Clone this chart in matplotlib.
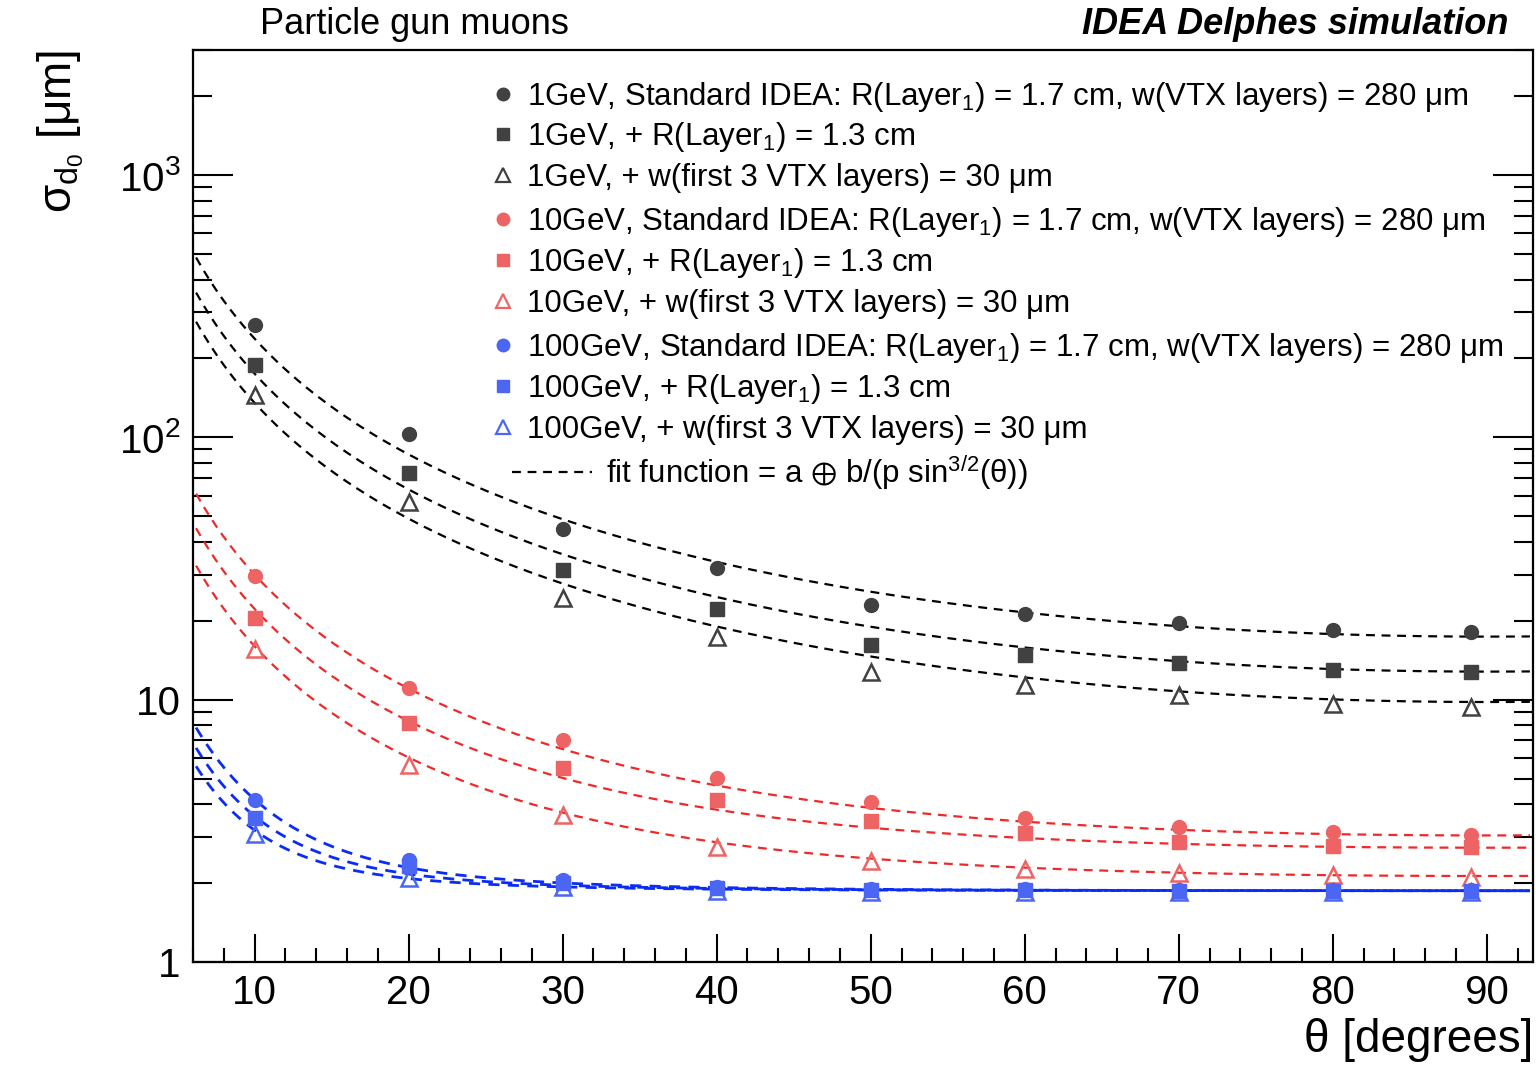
#!/usr/bin/env python3
# coding: utf-8

import numpy as np
import matplotlib
matplotlib.use("Agg")
import matplotlib.pyplot as plt
from matplotlib.ticker import FixedLocator, FixedFormatter, MultipleLocator, NullFormatter

#######################################################
# data

theta = [10, 20, 30, 40, 50, 60, 70, 80, 89]

# 1 GeV
gev1_std = [269, 103.5, 44.7, 31.8, 23.0, 21.2, 19.6, 18.5, 18.1]
gev1_r13 = [189.5, 73.0, 31.2, 22.2, 16.2, 14.8, 13.8, 13.0, 12.7]
gev1_w30 = [145.7, 56.6, 24.4, 17.4, 12.8, 11.4, 10.4, 9.66, 9.41]

# 10 GeV
gev10_std = [29.6, 11.1, 7.05, 5.01, 4.06, 3.53, 3.26, 3.12, 3.04]
gev10_r13 = [20.5, 8.18, 5.51, 4.13, 3.44, 3.09, 2.86, 2.76, 2.74]
gev10_w30 = [15.6, 5.66, 3.62, 2.74, 2.42, 2.26, 2.18, 2.15, 2.10]

# 100 GeV
gev100_std = [4.13, 2.44, 2.05, 1.94, 1.90, 1.89, 1.88, 1.88, 1.88]
gev100_r13 = [3.53, 2.32, 2.00, 1.91, 1.88, 1.88, 1.87, 1.87, 1.87]
gev100_w30 = [3.07, 2.09, 1.94, 1.86, 1.85, 1.85, 1.85, 1.85, 1.85]

# fit parameters of a (+) b/(p sin^3/2), b already divided by p
fit_a = [2.49, 1.87, 0.0, 2.13, 2.21, 1.79, 1.85, 1.857, 1.86]
fit_b = [17.22, 12.66, 9.8, 2.165, 1.598, 1.15, 0.27, 0.223, 0.1866]

labels = [
    r"1GeV, Standard IDEA: R(Layer$_{1}$) = 1.7 cm, w(VTX layers) = 280 μm",
    r"1GeV, + R(Layer$_{1}$) = 1.3 cm",
    r"1GeV, + w(first 3 VTX layers) = 30 μm",
    r"10GeV, Standard IDEA: R(Layer$_{1}$) = 1.7 cm, w(VTX layers) = 280 μm",
    r"10GeV, + R(Layer$_{1}$) = 1.3 cm",
    r"10GeV, + w(first 3 VTX layers) = 30 μm",
    r"100GeV, Standard IDEA: R(Layer$_{1}$) = 1.7 cm, w(VTX layers) = 280 μm",
    r"100GeV, + R(Layer$_{1}$) = 1.3 cm",
    r"100GeV, + w(first 3 VTX layers) = 30 μm",
]

#######################################################

plt.rcParams["font.family"] = ["Liberation Sans", "DejaVu Sans"]
plt.rcParams["mathtext.fontset"] = "custom"
plt.rcParams["mathtext.rm"] = "Liberation Sans"
plt.rcParams["mathtext.it"] = "Liberation Sans:italic"
plt.rcParams["mathtext.bf"] = "Liberation Sans:bold"
plt.rcParams["mathtext.fallback"] = "stixsans"

W, H = 1536, 1066


def fig_xy(px, py):
    return px / W, 1 - py / H


def fitFunction(th, a, b):
    s = np.sin(np.radians(th)) ** 1.5
    return np.sqrt(a ** 2 + (b / s) ** 2)


series = [gev1_std, gev1_r13, gev1_w30,
          gev10_std, gev10_r13, gev10_w30,
          gev100_std, gev100_r13, gev100_w30]

mark_cols = ["#414141", "#ee6464", "#4b66f2"]
line_cols = ["#000000", "#f02828", "#0a2cf5"]
line_w = [1.6, 1.6, 2.0]
shapes = ["o", "s", "^"]
sizes = [10, 9.5, 11]

fig = plt.figure(figsize=(W / 100, H / 100), dpi=100)
ax = fig.add_axes([193 / W, 1 - 962 / H, 1340 / W, 912 / H])

th_line = np.linspace(6.2, 92.8, 400)

for i in range(9):
    grp = i // 3
    kind = i % 3
    ax.plot(th_line, fitFunction(th_line, fit_a[i], fit_b[i]),
            color=line_cols[grp], lw=line_w[grp], dashes=(4, 3), zorder=2)
    if kind == 2:
        ax.plot(theta, series[i], ls="none", marker="^", ms=sizes[kind],
                mfc="none", mec=mark_cols[grp], mew=1.8, zorder=3)
    else:
        ax.plot(theta, series[i], ls="none", marker=shapes[kind], ms=sizes[kind],
                color=mark_cols[grp], mec=mark_cols[grp], zorder=3)

ax.set_yscale("log")
ax.set_xlim(6, 93)
ax.set_ylim(1, 3000)

ax.yaxis.set_major_locator(FixedLocator([1, 10, 100, 1000]))
ax.yaxis.set_major_formatter(FixedFormatter(["1", "10", r"$10^{2}$", r"$10^{3}$"]))
minors = [m * 10 ** d for d in range(4) for m in range(2, 10)]
ax.yaxis.set_minor_locator(FixedLocator(minors))
ax.yaxis.set_minor_formatter(NullFormatter())

ax.xaxis.set_major_locator(MultipleLocator(10))
ax.xaxis.set_minor_locator(MultipleLocator(2))

for sp in ax.spines.values():
    sp.set_linewidth(1.6)

ax.tick_params(axis="both", which="both", direction="in", width=1.5,
               top=False, right=True, labelsize=29)
ax.tick_params(axis="y", which="major", length=29, pad=9)
ax.tick_params(axis="y", which="minor", length=14)
ax.tick_params(axis="x", which="major", length=20, pad=9)
ax.tick_params(axis="x", which="minor", length=10)

ax.set_xlabel("θ [degrees]", fontsize=33, loc="right", labelpad=4)
ax.set_ylabel(r"σ$_{\mathrm{d_{0}}}$ [μm]", fontsize=33, loc="top", labelpad=24)

# titles above the frame
x, y = fig_xy(260, 34)
fig.text(x, y, "Particle gun muons", fontsize=26, ha="left", va="baseline")
x, y = fig_xy(1508, 34)
fig.text(x, y, "IDEA Delphes simulation", fontsize=26, ha="right", va="baseline",
         fontweight="bold", fontstyle="italic")

# legend drawn by hand
rows = [94, 134, 175, 219, 260, 301, 345, 386, 427]
for i in range(9):
    grp = i // 3
    kind = i % 3
    mx, my = fig_xy(503, rows[i])
    if kind == 2:
        fig.lines.append(plt.Line2D([mx], [my], transform=fig.transFigure, ls="none",
                                    marker="^", ms=sizes[kind] * 0.9, mfc="none",
                                    mec=mark_cols[grp], mew=1.6))
    else:
        fig.lines.append(plt.Line2D([mx], [my], transform=fig.transFigure, ls="none",
                                    marker=shapes[kind], ms=sizes[kind] * 0.9,
                                    color=mark_cols[grp]))
    tx, ty = fig_xy(527, rows[i] + 11)
    fig.text(tx, ty, labels[i], fontsize=22.5, ha="left", va="baseline")

lx0, ly = fig_xy(512, 472)
lx1, _ = fig_xy(592, 472)
fig.lines.append(plt.Line2D([lx0, lx1], [ly, ly], transform=fig.transFigure,
                            color="black", lw=1.6, dashes=(4, 3)))
tx, ty = fig_xy(606, 483)
fig.text(tx, ty, r"fit function = a $\oplus$ b/(p sin$^{3/2}$(θ))", fontsize=22.5,
         ha="left", va="baseline")

fig.savefig("out.png", dpi=100)
